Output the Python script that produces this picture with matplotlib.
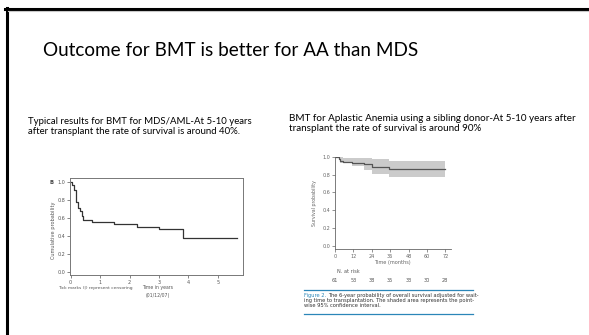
import matplotlib.pyplot as plt
from matplotlib.lines import Line2D

# Slide text
title = 'Outcome for BMT is better for AA than MDS'
left_caption = ['Typical results for BMT for MDS/AML-At 5-10 years',
                'after transplant the rate of survival is around 40%.']
right_caption = ['BMT for Aplastic Anemia using a sibling donor-At 5-10 years after',
                 'transplant the rate of survival is around 90%']

# MDS/AML curve (years)
mds_time = [0, 0.06, 0.11, 0.17, 0.2, 0.24, 0.32, 0.38, 0.43, 0.72, 1.47, 2.26, 3.0, 3.82, 5.63]
mds_surv = [1.0, 0.975, 0.92, 0.85, 0.78, 0.71, 0.68, 0.63, 0.585, 0.56, 0.535, 0.507, 0.478, 0.377, 0.377]
mds_xticks = [0, 1, 2, 3, 4, 5]
mds_yticks = [0.0, 0.2, 0.4, 0.6, 0.8, 1.0]

# Aplastic anemia curve (months) with 95% CI
aa_time = [0, 2.5, 3.5, 5.5, 11, 19, 24, 35, 72]
aa_surv = [1.0, 0.975, 0.955, 0.945, 0.93, 0.915, 0.89, 0.86, 0.86]
aa_upper = [1.0, 1.0, 1.0, 0.99, 0.99, 0.99, 0.974, 0.955, 0.955]
aa_lower = [1.0, 0.963, 0.925, 0.925, 0.895, 0.85, 0.81, 0.77, 0.77]
aa_xticks = [0, 12, 24, 36, 48, 60, 72]
aa_yticks = [0.0, 0.2, 0.4, 0.6, 0.8, 1.0]
at_risk = [61, 53, 38, 35, 33, 30, 28]

W, H = 589, 335
fig = plt.figure(figsize=(W / 100, H / 100), dpi=100)
fig.patch.set_facecolor('white')

def fx(px):
    return px / W

def fy(py):
    return 1 - py / H

# slide border (top and left)
fig.add_artist(Line2D([fx(5), 1], [fy(8.5), fy(8.5)], color='black', lw=2.2))
fig.add_artist(Line2D([fx(6.5), fx(6.5)], [0, fy(7.5)], color='black', lw=2.2))
fig.add_artist(Line2D([fx(8), 1], [fy(10.5), fy(10.5)], color='#c8c8c8', lw=0.8))

slide_font = 'Lato'
fig.text(fx(43), fy(50), title, fontsize=13.6, family=slide_font, va='center', ha='left')
for i, line in enumerate(left_caption):
    fig.text(fx(28), fy(121.7 + 10 * i), line, fontsize=6.9, family=slide_font, va='center')
for i, line in enumerate(right_caption):
    fig.text(fx(289), fy(118.3 + 10 * i), line, fontsize=7.1, family=slide_font, va='center')

# ---- left chart: MDS/AML
ax1 = fig.add_axes([fx(70), fy(275), fx(242.7 - 70), (275 - 178) / H])
ax1.step(mds_time, mds_surv, where='post', color='#333333', lw=0.9)
ax1.set_xlim(-0.02, 5.84)
ax1.set_ylim(-0.035, 1.05)
ax1.set_xticks(mds_xticks)
ax1.set_yticks(mds_yticks)
ax1.set_yticklabels([f'{v:.1f}' for v in mds_yticks])
ax1.tick_params(labelsize=3.5, length=2, width=0.5, colors='#555555', pad=1.5)
for s in ax1.spines.values():
    s.set_color('#777777')
    s.set_linewidth(0.7)
fig.text(fx(54), fy(230), 'Cumulative probability', rotation=90, fontsize=3.6,
         color='#555555', ha='center', va='center')
fig.text(fx(52), fy(182.7), 'B', fontsize=3.8, weight='bold', color='#444444',
         ha='center', va='center')
fig.text(fx(57.7), fy(287.7), 'Tick marks (|) represent censoring', fontsize=3.2,
         color='#555555', va='center')
fig.text(fx(158), fy(287.7), 'Time in years', fontsize=3.3, color='#555555',
         ha='center', va='center')
fig.text(fx(158), fy(295), '(01/12/07)', fontsize=3.3, color='#555555',
         ha='center', va='center')

# ---- right chart: aplastic anemia
ax2 = fig.add_axes([fx(335), fy(249), fx(450.5 - 335), (249 - 156.7) / H])
ax2.fill_between(aa_time, aa_lower, aa_upper, step='post', color='#cbcbcb', lw=0)
ax2.step(aa_time, aa_surv, where='post', color='#555555', lw=0.9)
ax2.set_xlim(0, 75.4)
ax2.set_ylim(-0.035, 1.0)
ax2.set_xticks(aa_xticks)
ax2.set_yticks(aa_yticks)
ax2.set_yticklabels([f'{v:.1f}' for v in aa_yticks])
ax2.spines['top'].set_visible(False)
ax2.spines['right'].set_visible(False)
for s in ('left', 'bottom'):
    ax2.spines[s].set_color('#666666')
    ax2.spines[s].set_linewidth(0.6)
ax2.tick_params(labelsize=3.5, length=2, width=0.5, colors='#666666', pad=1.5)
ax2.set_xlabel('Time (months)', fontsize=3.6, color='#666666', labelpad=1)
ax2.set_ylabel('Survival probability', fontsize=3.4, color='#666666', labelpad=4)
ax2.text(0.02, -0.245, 'N. at risk', transform=ax2.transAxes, fontsize=3.6,
         color='#555555', va='center')
for t, n in zip(aa_xticks, at_risk):
    ax2.text(t, -0.336, str(n), transform=ax2.get_xaxis_transform(), fontsize=3.6,
             color='#555555', ha='center', va='center')

# figure caption with blue rules
blue = '#2b86b8'
fig.add_artist(Line2D([fx(304), fx(473)], [fy(290), fy(290)], color=blue, lw=0.9))
fig.add_artist(Line2D([fx(304), fx(473)], [fy(314), fy(314)], color=blue, lw=0.9))
lab = fig.text(fx(304), fy(295.7), 'Figure 2.', fontsize=3.7, color=blue,
               va='center', ha='left')
ax2.annotate('The 6-year probability of overall survival adjusted for wait-',
             xy=(1, 0.5), xycoords=lab, xytext=(1.2, 0), textcoords='offset points',
             fontsize=3.7, color='#333333', va='center', ha='left')
fig.text(fx(304), fy(300.7), 'ing time to transplantation. The shaded area represents the point-',
         fontsize=3.7, color='#333333', va='center', ha='left')
fig.text(fx(304), fy(305.7), 'wise 95% confidence interval.',
         fontsize=3.7, color='#333333', va='center', ha='left')

fig.savefig('out.png', dpi=100)
